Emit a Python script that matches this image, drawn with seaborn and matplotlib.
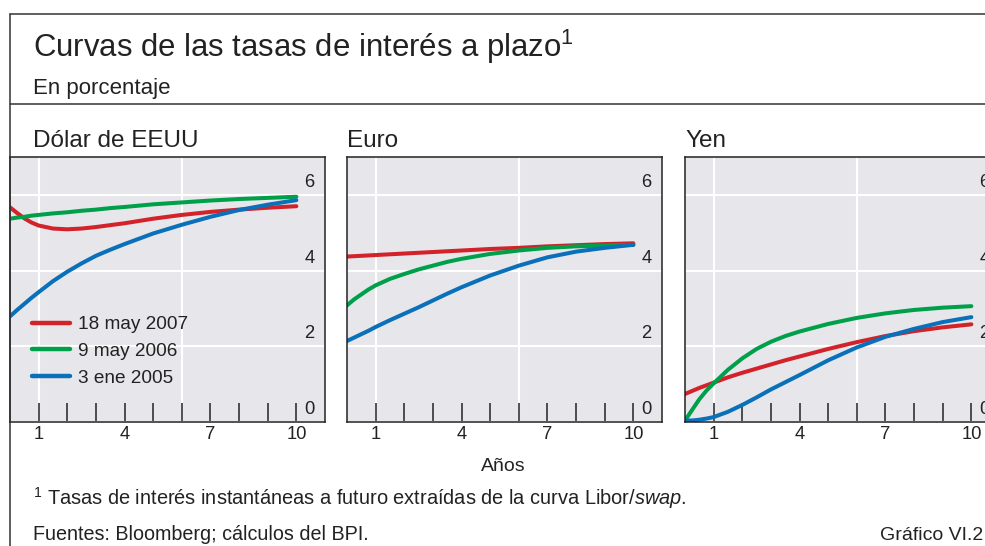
import numpy as np
import pandas as pd
import matplotlib
matplotlib.use("Agg")
import matplotlib.pyplot as plt
import seaborn as sns
from matplotlib.lines import Line2D
from matplotlib.transforms import ScaledTranslation

# ---------------- data ----------------
plazo = [0, 0.25, 0.5, 0.75, 1, 1.5, 2, 2.5, 3, 3.5, 4, 5, 6, 7, 8, 9, 10]
fechas = ["18 may 2007", "9 may 2006", "3 ene 2005"]
monedas = ["Dólar de EEUU", "Euro", "Yen"]

usd_2007 = [5.67, 5.52, 5.38, 5.27, 5.19, 5.11, 5.09, 5.11, 5.15, 5.20, 5.25, 5.37, 5.47, 5.55, 5.61, 5.66, 5.70]
usd_2006 = [5.37, 5.40, 5.42, 5.45, 5.47, 5.51, 5.54, 5.58, 5.61, 5.65, 5.68, 5.75, 5.80, 5.85, 5.89, 5.92, 5.95]
usd_2005 = [2.79, 2.96, 3.12, 3.28, 3.43, 3.72, 3.97, 4.19, 4.39, 4.55, 4.70, 4.98, 5.21, 5.42, 5.60, 5.74, 5.86]

eur_2007 = [4.37, 4.38, 4.39, 4.40, 4.41, 4.43, 4.45, 4.47, 4.49, 4.51, 4.53, 4.57, 4.60, 4.64, 4.67, 4.70, 4.72]
eur_2006 = [3.08, 3.24, 3.37, 3.50, 3.61, 3.78, 3.91, 4.03, 4.13, 4.23, 4.31, 4.44, 4.53, 4.60, 4.64, 4.66, 4.68]
eur_2005 = [2.14, 2.23, 2.32, 2.41, 2.51, 2.69, 2.86, 3.03, 3.21, 3.39, 3.56, 3.87, 4.13, 4.35, 4.50, 4.60, 4.68]

jpy_2007 = [0.74, 0.82, 0.90, 0.97, 1.04, 1.18, 1.30, 1.41, 1.52, 1.63, 1.73, 1.93, 2.11, 2.27, 2.40, 2.50, 2.58]
jpy_2006 = [0.04, 0.32, 0.60, 0.83, 1.02, 1.38, 1.68, 1.93, 2.12, 2.27, 2.39, 2.59, 2.75, 2.87, 2.96, 3.02, 3.06]
jpy_2005 = [0.04, 0.04, 0.06, 0.09, 0.13, 0.27, 0.45, 0.65, 0.86, 1.05, 1.24, 1.63, 1.97, 2.25, 2.46, 2.64, 2.77]

xtick_major = [1, 4, 7, 10]
xtick_minor = [2, 3, 5, 6, 8, 9]
ytick_vals = [0, 2, 4, 6]
vgrid = [1, 6]

series_by_currency = {
    "Dólar de EEUU": [usd_2007, usd_2006, usd_2005],
    "Euro": [eur_2007, eur_2006, eur_2005],
    "Yen": [jpy_2007, jpy_2006, jpy_2005],
}

rows = []
for m in monedas:
    for f, vals in zip(fechas, series_by_currency[m]):
        for p, v in zip(plazo, vals):
            rows.append({"Moneda": m, "Fecha": f, "Plazo": p, "Tasa": v})
df = pd.DataFrame(rows)

# ---------------- style ----------------
sns.set_theme(style="white")
plt.rcParams['font.family'] = ['Liberation Sans', 'DejaVu Sans']
plt.rcParams['mathtext.fontset'] = 'custom'
plt.rcParams['mathtext.rm'] = 'Liberation Sans'
plt.rcParams['mathtext.it'] = 'Liberation Sans:italic'

colors = {"18 may 2007": "#d2232a", "9 may 2006": "#00a04b", "3 ene 2005": "#0a70b9"}
bg = "#e7e7eb"
ink = "#222222"
frame = "#333333"

W, H = 985, 546
fig = plt.figure(figsize=(W / 100, H / 100), dpi=100)
fig.patch.set_facecolor("white")

def fx(px):
    return px / W

def fy(py):
    return 1 - py / H

# frame lines
fig.add_artist(Line2D([fx(10), 1.0], [fy(14), fy(14)], transform=fig.transFigure, color=frame, lw=1.1))
fig.add_artist(Line2D([fx(10), 1.0], [fy(104), fy(104)], transform=fig.transFigure, color=frame, lw=1.1))
fig.add_artist(Line2D([fx(10), fx(10)], [fy(14), 0.0], transform=fig.transFigure, color=frame, lw=1.1))

# header texts
fig.text(fx(33), fy(57), "Curvas de las tasas de interés a plazo$^{1}$", fontsize=22.4, color=ink,
         va="baseline", ha="left")
fig.text(fx(33), fy(94), "En porcentaje", fontsize=16, color=ink, va="baseline", ha="left")

lefts = [10, 347, 685]
for i, (m, left) in enumerate(zip(monedas, lefts)):
    ax = fig.add_axes([fx(left), fy(422), 315 / W, 265 / H])
    ax.set_facecolor(bg)
    sub = df[df["Moneda"] == m]
    sns.lineplot(data=sub, x="Plazo", y="Tasa", hue="Fecha", hue_order=fechas,
                 palette=colors, linewidth=2.9, ax=ax, legend=(i == 0),
                 sort=False, errorbar=None)
    ax.set_xlim(0, 11)
    ax.set_ylim(0, 7)
    ax.set_xlabel("")
    ax.set_ylabel("")
    # grid
    ax.set_yticks(ytick_vals)
    ax.yaxis.grid(True, color="white", lw=1.5)
    ax.xaxis.grid(False)
    for v in vgrid:
        ax.axvline(v, color="white", lw=1.5, zorder=0.5)
    ax.set_axisbelow(True)
    # x ticks
    ax.set_xticks(xtick_major)
    ax.set_xticks(xtick_minor, minor=True)
    ax.set_xticklabels([str(t) for t in xtick_major])
    ax.tick_params(axis="x", which="both", direction="in", length=13.5, width=1.1,
                   color=ink, bottom=True, top=False, labelsize=13.2, labelcolor=ink, pad=3)
    # y ticks inside on right
    ax.tick_params(axis="y", which="both", left=False, right=False, length=0,
                   labelleft=False, labelright=True, pad=-15, labelsize=13.2, labelcolor=ink)
    ax.set_yticklabels([str(t) for t in ytick_vals])
    off = ScaledTranslation(0, 8 / 100, fig.dpi_scale_trans)
    for tk in ax.yaxis.get_major_ticks():
        tk.label2.set_verticalalignment("baseline")
        tk.label2.set_transform(tk.label2.get_transform() + off)
    for s in ax.spines.values():
        s.set_color(ink)
        s.set_linewidth(1.1)
    # panel title
    fig.text(fx(left + 23 if i == 0 else left), fy(147), m, fontsize=17.5, color=ink,
             va="baseline", ha="left")
    if i == 0:
        leg = ax.legend(loc="upper left", bbox_to_anchor=((32 - 10) / 315, (422 - 316) / 265),
                        frameon=False, fontsize=13.7, handlelength=2.0, handletextpad=0.42,
                        labelspacing=0.5, borderpad=0, borderaxespad=0)
        for t in leg.get_texts():
            t.set_color(ink)
        for h in leg.get_lines():
            h.set_linewidth(3.2)

fig.text(fx(503), fy(471), "Años", fontsize=14, color=ink, ha="center", va="baseline")
fig.text(fx(33), fy(505), "$^{1}$ Tasas de interés instantáneas a futuro extraídas de la curva Libor/$\\mathit{swap}$.",
         fontsize=14.4, color=ink, ha="left", va="baseline")
fig.text(fx(33), fy(540), "Fuentes: Bloomberg; cálculos del BPI.", fontsize=14.2, color=ink, ha="left", va="baseline")
fig.text(fx(983), fy(540), "Gráfico VI.2", fontsize=14, color=ink, ha="right", va="baseline")

fig.savefig("out.png", dpi=100)
